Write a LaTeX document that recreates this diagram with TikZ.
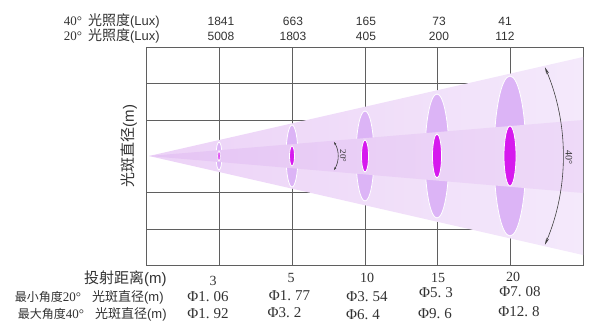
\documentclass[tikz,border=0pt]{standalone}
\usepackage{fontspec}
\setmainfont{Liberation Serif}
\setsansfont{Liberation Sans}
\newfontfamily\cjk{Noto Sans CJK SC}
\usetikzlibrary{arrows.meta}

\definecolor{gridGray}{RGB}{95,95,95}
\definecolor{txtGray}{RGB}{50,50,50}
\definecolor{beamOuterL}{RGB}{236,210,247}
\definecolor{beamOuterR}{RGB}{244,233,251}
\definecolor{beamInnerL}{RGB}{229,196,244}
\definecolor{beamInnerR}{RGB}{238,218,248}
\definecolor{spotOuter}{RGB}{220,180,246}
\definecolor{spotInner}{RGB}{214,26,238}

\newcommand{\zh}[1]{{\cjk #1}}
\newcommand{\zhs}[2]{{\cjk\fontsize{#1}{#1}\selectfont #2}}

\tikzset{
	gridline/.style={draw=gridGray, line width=0.7pt},
	spotrim/.style={draw=white, line width=0.8pt},
	anglearrow/.style={draw=black!75, line width=0.6pt},
	luxval/.style={font=\sffamily\fontsize{12}{14}\selectfont, text=txtGray, inner sep=0pt},
	luxlbl/.style={font=\fontsize{13}{15}\selectfont, text=txtGray, inner sep=0pt, anchor=east},
	rowlbl/.style={font=\fontsize{13}{15}\selectfont, text=txtGray, inner sep=0pt, anchor=east},
	distval/.style={font=\fontsize{14}{16}\selectfont, text=txtGray, inner sep=0pt},
	diaval/.style={font=\fontsize{15}{17}\selectfont, text=txtGray, inner sep=0pt},
	anglelbl/.style={text=black!80, inner sep=0pt, rotate=-90}}
\tikzset{every picture/.style={line width=0.75pt}}

\begin{document}
\begin{tikzpicture}[x=1pt,y=1pt,yscale=-1,xscale=1]
	\useasboundingbox (0,0) rectangle (600,333);

	% grid
	\draw[gridline] (146,47) rectangle (583,265);
	\foreach \gx in {219,292,365,437,510} \draw[gridline] (\gx,47) -- (\gx,265);
	\foreach \gy in {83,120,192,229} \draw[gridline] (146,\gy) -- (583,\gy);

	% 40 deg beam and spots
	\coordinate (apex) at (149,156);
	\shade[left color=beamOuterL, right color=beamOuterR] (apex) -- (583,57) -- (583,255) -- cycle;
	\foreach \sx/\rx/\ry in {219/3/14, 292/6/31, 365/9/45, 437/12/62, 510/16/80}
		\draw[spotrim, fill=spotOuter] (\sx,156) ellipse [x radius=\rx, y radius=\ry];

	% 20 deg beam and spots
	\shade[left color=beamInnerL, right color=beamInnerR] (apex) -- (583,120) -- (583,193) -- cycle;
	\foreach \sx/\rx/\ry in {219/1.2/5, 292/2.5/10, 365/3.5/16, 437/4.5/22, 510/6/30}
		\draw[spotrim, fill=spotInner] (\sx,156) ellipse [x radius=\rx, y radius=\ry];

	% angle marks
	\coordinate (arc40c) at (336,156);
	\draw[anglearrow, {Stealth[length=7pt,width=3pt]}-{Stealth[length=7pt,width=3pt]}] (arc40c) ++(-23:227) arc[start angle=-23, end angle=23, radius=227];
	\node[anglelbl, font=\fontsize{10}{11}\selectfont] (lbl40) at (569,157) {40°};
	\coordinate (arc20c) at (311.5,156);
	\draw[anglearrow, {Stealth[length=3pt,width=2pt]}-{Stealth[length=3pt,width=2pt]}] (arc20c) ++(-32:26.5) arc[start angle=-32, end angle=32, radius=26.5];
	\node[anglelbl, font=\fontsize{9}{10}\selectfont] (lbl20) at (343,156) {20°};

	% illuminance rows
	\node[luxlbl] (lux40) at (160,21) {40°\hspace{6pt}\zhs{14}{光照度}\textsf{(Lux)}};
	\node[luxlbl] (lux20) at (160,36) {20°\hspace{6pt}\zhs{14}{光照度}\textsf{(Lux)}};
	\foreach \vx/\va/\vb [count=\i] in {221/1841/5008, 293/663/1803, 366/165/405, 439/73/200, 505/41/112}{
		\node[luxval] (luxa\i) at (\vx,21) {\va};
		\node[luxval] (luxb\i) at (\vx,36) {\vb};
	}

	% side label
	\node[font=\fontsize{15}{17}\selectfont, text=txtGray, rotate=90, inner sep=0pt] (ylbl) at (129,146) {\zh{光斑直径}\textsf{(m)}};

	% distance and diameter rows
	\node[rowlbl, font=\fontsize{15}{17}\selectfont] (distlbl) at (167,279) {\zh{投射距离}\textsf{(m)}};
	\node[rowlbl] (minlbl) at (164,297) {\zhs{12}{最小角度}20°\hspace{11pt}\zh{光斑直径}\textsf{(m)}};
	\node[rowlbl] (maxlbl) at (167,314) {\zhs{12}{最大角度}40°\hspace{11pt}\zh{光斑直径}\textsf{(m)}};

	\node[distval] (d3) at (213,281) {3};
	\node[distval] (d5) at (291,278) {5};
	\node[distval] (d10) at (367,278) {10};
	\node[distval] (d15) at (438,278) {15};
	\node[distval] (d20) at (513,277) {20};

	\node[diaval] (min3) at (208,297) {Φ1.\hspace{4pt}06};
	\node[diaval] (min5) at (289.5,296) {Φ1.\hspace{4pt}77};
	\node[diaval] (min10) at (367,297) {Φ3.\hspace{4pt}54};
	\node[diaval] (min15) at (436,293) {Φ5.\hspace{4pt}3};
	\node[diaval] (min20) at (520,292) {Φ7.\hspace{4pt}08};

	\node[diaval] (max3) at (208,314) {Φ1.\hspace{4pt}92};
	\node[diaval] (max5) at (284.5,313) {Φ3.\hspace{4pt}2};
	\node[diaval] (max10) at (363,315) {Φ6.\hspace{4pt}4};
	\node[diaval] (max15) at (435,314) {Φ9.\hspace{4pt}6};
	\node[diaval] (max20) at (519,312) {Φ12.\hspace{4pt}8};

\end{tikzpicture}
\end{document}
